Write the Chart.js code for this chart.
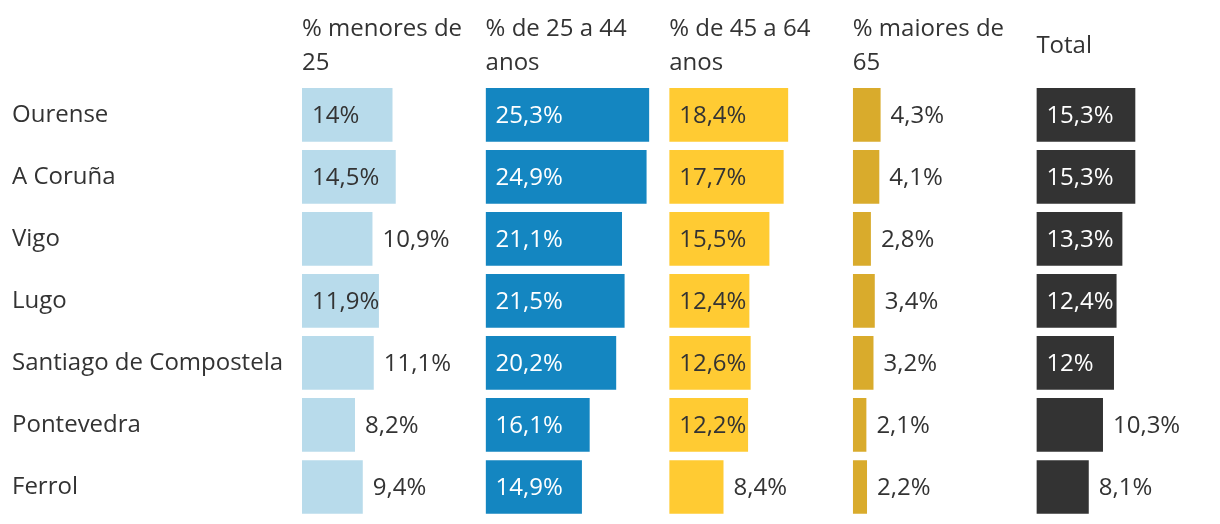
<!DOCTYPE html>
<html>
<head>
<meta charset="utf-8">
<script src="https://cdn.jsdelivr.net/npm/chart.js@4"></script>
<style>
body { margin: 0; background: #fff; }
#wrap { width: 1220px; height: 524px; }
</style>
</head>
<body>
<div id="wrap"><canvas id="barChart"></canvas></div>
<script>
const cidades = ['Ourense', 'A Coruña', 'Vigo', 'Lugo', 'Santiago de Compostela', 'Pontevedra', 'Ferrol'];
const menores25 = [14, 14.5, 10.9, 11.9, 11.1, 8.2, 9.4];
const de25a44 = [25.3, 24.9, 21.1, 21.5, 20.2, 16.1, 14.9];
const de45a64 = [18.4, 17.7, 15.5, 12.4, 12.6, 12.2, 8.4];
const maiores65 = [4.3, 4.1, 2.8, 3.4, 3.2, 2.1, 2.2];
const total = [15.3, 15.3, 13.3, 12.4, 12, 10.3, 8.1];
const cabecalhos = [['% menores de', '25'], ['% de 25 a 44', 'anos'], ['% de 45 a 64', 'anos'], ['% maiores de', '65'], ['Total']];

const series = [menores25, de25a44, de45a64, maiores65, total];
const cores = ['#b8dbeb', '#1486c1', '#ffcb33', '#d9ab2c', '#333333'];
const corTextoDentro = ['#333333', '#ffffff', '#333333', '#333333', '#ffffff'];
const corTexto = '#333333';

Chart.defaults.font.family = "'Open Sans', sans-serif";
Chart.defaults.font.size = 24;

// rotulos dentro da barra quando cabe, senao fora
const rotulosBarras = {
    id: 'rotulosBarras',
    afterDatasetsDraw(chart) {
        const ctx = chart.ctx;
        ctx.save();
        ctx.font = "24px 'Open Sans'";
        ctx.textBaseline = 'middle';
        ctx.textAlign = 'left';
        chart.data.datasets.forEach(function(ds, i) {
            chart.getDatasetMeta(i).data.forEach(function(bar, j) {
                const v = ds.data[j];
                const txt = String(v).replace('.', ',') + '%';
                if (v >= 11.5) {
                    ctx.fillStyle = corTextoDentro[i];
                    ctx.fillText(txt, bar.base + 10, bar.y + 1);
                } else {
                    ctx.fillStyle = corTexto;
                    ctx.fillText(txt, bar.x + 10, bar.y + 1);
                }
            });
        });
        ctx.restore();
    }
};

const scales = {
    y: {
        type: 'category',
        position: 'left',
        ticks: { color: corTexto, crossAlign: 'far', padding: 0 },
        grid: { display: false, drawTicks: false },
        border: { display: false },
        afterFit: function(axis) {
            axis.width = 290;
            // sem margem extra do rotulo no fundo
            axis.paddingTop = 0;
            axis.paddingBottom = 0;
        }
    }
};

// eixos do topo empilhados; o Chart.js coloca-os em ordem inversa
for (let i = series.length - 1; i >= 0; i--) {
    const soUmaLinha = cabecalhos[i].length === 1;
    scales['x' + i] = {
        type: 'linear',
        position: 'top',
        stack: 'colunas',
        min: 0,
        max: 28.4,
        ticks: { display: false },
        grid: { display: false, drawTicks: false },
        border: { display: false },
        title: {
            display: true,
            text: cabecalhos[i],
            align: 'start',
            color: corTexto,
            font: { size: 24, lineHeight: 34 / 24 },
            padding: soUmaLinha ? { top: 29.5, bottom: 3 } : { top: 12.5, bottom: 3.3 }
        }
    };
}

const ctx = document.getElementById('barChart').getContext('2d');

const barChart = new Chart(ctx, {
    type: 'bar',
    data: {
        labels: cidades,
        datasets: series.map(function(s, i) {
            return {
                label: cabecalhos[i].join(' '),
                data: s,
                xAxisID: 'x' + i,
                yAxisID: 'y',
                backgroundColor: cores[i],
                grouped: false,
                barPercentage: 1,
                categoryPercentage: 0.866
            };
        })
    },
    options: {
        indexAxis: 'y',
        responsive: true,
        maintainAspectRatio: false,
        animation: false,
        layout: { padding: { left: 12, bottom: 6, top: 0, right: 0 } },
        plugins: {
            legend: { display: false },
            tooltip: { enabled: false }
        },
        scales: scales
    },
    plugins: [rotulosBarras]
});
</script>
</body>
</html>
